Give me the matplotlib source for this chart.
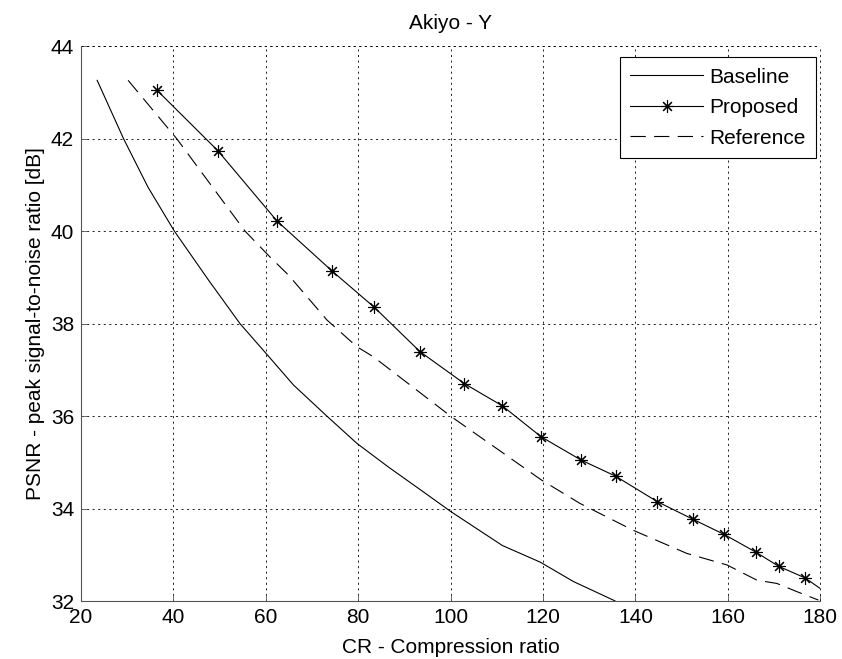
import matplotlib
matplotlib.use("Agg")
import matplotlib.pyplot as plt

# =============================
# DATA
# =============================
baseline_cr = [23.5, 29.2, 34.5, 40.2, 47.6, 54.4, 60.0, 66.0, 73.2, 79.7,
               86.5, 94.1, 100.1, 111.2, 119.4, 126.6, 135.2, 137.5]
baseline_psnr = [43.26, 42.0, 40.95, 40.0, 38.94, 38.0, 37.36, 36.67, 36.0, 35.41,
                 34.9, 34.36, 33.93, 33.2, 32.84, 32.42, 32.02, 31.9]

proposed_cr = [36.4, 49.6, 62.4, 74.3, 83.5, 93.4, 103.0, 111.2, 119.6, 128.2,
               135.7, 144.7, 152.4, 159.2, 166.0, 171.0, 176.7, 180.0]
proposed_psnr = [43.05, 41.74, 40.22, 39.14, 38.35, 37.39, 36.70, 36.22, 35.55, 35.05,
                 34.70, 34.15, 33.77, 33.44, 33.06, 32.75, 32.50, 32.27]
proposed_marked = list(range(17))  # last point is line end only

reference_cr = [30.2, 40.7, 55.5, 60.9, 64.9, 73.2, 79.7, 83.3, 100.1, 119.6,
                128.0, 139.5, 151.1, 159.8, 166.3, 170.6, 175.0, 179.6]
reference_psnr = [43.26, 42.0, 40.0, 39.44, 39.05, 38.08, 37.50, 37.28, 35.99, 34.62,
                  34.11, 33.53, 33.03, 32.78, 32.45, 32.38, 32.20, 32.02]

x_ticks = [20, 40, 60, 80, 100, 120, 140, 160, 180]
y_ticks = [32, 34, 36, 38, 40, 42, 44]

# =============================
# STYLE
# =============================
plt.rcParams["font.family"] = ["Liberation Sans", "DejaVu Sans"]
plt.rcParams["font.size"] = 15
plt.rcParams["lines.scale_dashes"] = False

fig = plt.figure(figsize=(8.42, 6.59), dpi=100)
ax = fig.add_axes([0.0962, 0.088, 0.878, 0.842])

asterisk = (8, 2, 0)

ax.plot(baseline_cr, baseline_psnr, color="black", lw=0.8, label="Baseline")
ax.plot(proposed_cr, proposed_psnr, color="black", lw=0.8,
        marker=asterisk, markersize=9, markeredgewidth=0.8,
        markevery=proposed_marked, label="Proposed")
ax.plot(reference_cr, reference_psnr, color="black", lw=0.8,
        dashes=(11, 6), label="Reference")

ax.set_xlim(20, 180)
ax.set_ylim(32, 44)
ax.set_xticks(x_ticks)
ax.set_yticks(y_ticks)

dotted = (0, (1.5, 2.5))
ax.grid(True, color="black", linestyle=dotted, linewidth=0.6)
ax.spines["top"].set_visible(False)
ax.spines["right"].set_visible(False)
ax.spines["left"].set_color("#555555")
ax.spines["bottom"].set_color("#555555")
ax.tick_params(direction="in", length=4, width=0.6, colors="#555555",
               labelcolor="black", pad=5)

# dotted borders on top / right like MATLAB grid
ax.axhline(44, color="black", linestyle=dotted, linewidth=0.6, clip_on=False)
ax.axvline(180, color="black", linestyle=dotted, linewidth=0.6, clip_on=False)

ax.set_title("Akiyo - Y", fontsize=15, pad=12)
ax.set_xlabel("CR - Compression ratio", labelpad=8)
ax.set_ylabel("PSNR - peak signal-to-noise ratio [dB]", labelpad=4)

leg = ax.legend(loc="upper right", bbox_to_anchor=(0.9946, 0.980),
                fancybox=False, edgecolor="black", framealpha=1,
                handlelength=3.5, handletextpad=0.3, labelspacing=0.55,
                borderpad=0.5, borderaxespad=0.0)
leg.get_frame().set_linewidth(0.8)

plt.savefig("out.png", dpi=100)
plt.close()
